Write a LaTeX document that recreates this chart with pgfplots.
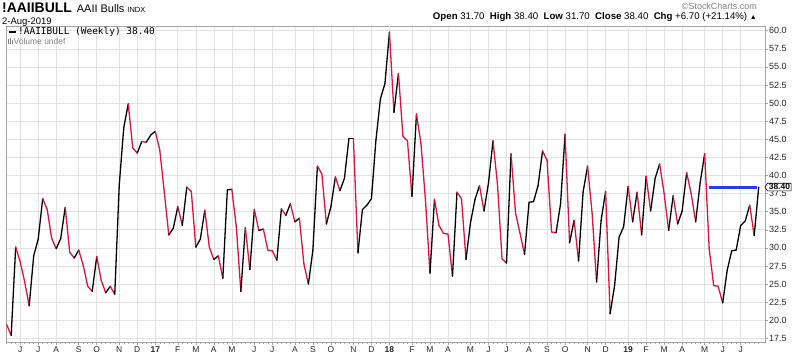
\documentclass[border=0pt]{standalone}
\usepackage{fontspec}
\setmainfont{Liberation Sans}
\newfontfamily\monof{DejaVu Sans Mono}
\usepackage{pgfplots}
\usepackage{pgfplotstable}
\pgfplotsset{compat=1.18}
\usetikzlibrary{shapes.symbols}
\definecolor{dnred}{RGB}{220,20,60}
\definecolor{gridc}{RGB}{226,226,226}
\definecolor{gridy}{RGB}{200,200,200}
\definecolor{framec}{RGB}{165,165,165}
\definecolor{bluel}{RGB}{40,60,230}
\definecolor{txtc}{RGB}{40,40,40}

\pgfplotstableread{
x y s
0 19.4 1
1 17.9 0
2 30.1 1
3 28.1 1
4 25.3 1
5 22.0 0
6 28.9 0
7 31.2 0
8 36.8 1
9 35.3 1
10 31.3 1
11 29.9 0
12 31.3 0
13 35.6 1
14 29.4 1
15 28.6 0
16 29.7 1
17 27.6 1
18 24.7 1
19 24.0 0
20 28.8 1
21 25.5 1
22 23.8 0
23 24.7 1
24 23.6 0
25 38.7 0
26 46.6 0
27 49.9 1
28 43.8 1
29 43.1 0
30 44.7 1
31 44.6 0
32 45.6 0
33 46.1 1
34 43.5 1
35 37.7 1
36 31.8 0
37 32.7 0
38 35.7 1
39 33.1 0
40 38.4 1
41 37.8 1
42 30.1 0
43 31.2 0
44 35.2 1
45 30.1 1
46 28.4 0
47 28.9 1
48 25.8 0
49 38.0 0
50 38.1 1
51 32.9 1
52 24.0 0
53 32.8 1
54 27.0 0
55 35.3 1
56 32.4 0
57 32.6 1
58 29.7 1
59 29.6 1
60 28.3 0
61 35.4 1
62 34.5 0
63 36.1 1
64 33.6 0
65 34.1 1
66 27.8 1
67 25.0 0
68 29.7 0
69 41.3 1
70 40.2 1
71 33.3 0
72 35.7 0
73 39.8 1
74 37.9 0
75 39.6 0
76 45.1 0
77 45.1 1
78 29.3 0
79 35.3 0
80 35.9 0
81 36.8 0
82 44.9 0
83 50.6 0
84 52.7 0
85 59.8 1
86 48.7 0
87 54.1 1
88 45.4 1
89 44.8 1
90 37.1 0
91 48.5 1
92 44.4 1
93 36.6 1
94 26.5 0
95 36.7 1
96 33.1 1
97 32.0 1
98 31.9 1
99 26.1 0
100 37.7 1
101 36.8 1
102 28.4 0
103 33.5 0
104 36.7 0
105 38.6 1
106 35.1 0
107 39.0 0
108 44.8 1
109 38.7 1
110 28.5 1
111 27.9 0
112 43.0 1
113 34.8 1
114 32.0 1
115 29.1 0
116 36.3 0
117 36.4 0
118 38.6 0
119 43.4 1
120 42.1 1
121 32.2 1
122 32.1 0
123 36.1 0
124 45.7 1
125 30.7 0
126 33.8 1
127 28.2 0
128 37.7 0
129 41.3 1
130 34.8 1
131 25.3 0
132 33.8 0
133 37.8 1
134 20.9 0
135 24.8 0
136 31.5 0
137 32.9 0
138 38.5 1
139 33.6 0
140 37.7 1
141 31.8 0
142 39.9 1
143 35.1 0
144 39.6 0
145 41.6 1
146 37.5 1
147 32.4 0
148 37.2 1
149 33.3 0
150 35.1 0
151 40.4 1
152 37.5 1
153 33.6 0
154 39.0 0
155 43.0 1
156 29.9 1
157 24.8 1
158 24.7 1
159 22.4 0
160 26.9 0
161 29.6 0
162 29.7 0
163 33.1 0
164 33.7 0
165 35.9 1
166 31.7 0
167 38.4 0
}\aaiidata

\begin{document}
\begin{tikzpicture}[x=1bp,y=1bp]
\useasboundingbox (0,0) rectangle (800,356);
\begin{axis}[
  at={(6bp,14bp)}, anchor=south west,
  scale only axis, width=759bp, height=316bp,
  xmin=-0.15, xmax=168.4, ymin=17.0, ymax=60.65,
  axis line style={framec, line width=0.7bp},
  grid=major,
  major grid style={gridc, line width=0.6bp},
  xtick={3,7,11,16,20,25,29,33,38,42,46,50,55,59,64,68,72,77,81,85,90,94,98,103,107,111,116,120,124,129,133,138,142,146,150,155,159,163},
  xticklabels={J,J,A,S,O,N,D,\textbf{17},F,M,A,M,J,J,A,S,O,N,D,\textbf{18},F,M,A,M,J,J,A,S,O,N,D,\textbf{19},F,M,A,M,J,J},
  extra x ticks={33,85,138}, extra x tick labels={},
  extra x tick style={grid style={gridy, line width=0.8bp}},
  minor xtick={0,1,...,167},
  xtick pos=lower, ytick pos=right,
  tick align=outside,
  major tick length=3bp, minor tick length=1.5bp,
  tick style={framec, line width=0.5bp},
  ytick={17.5,20,22.5,25,27.5,30,32.5,35,37.5,40,42.5,45,47.5,50,52.5,55,57.5,60},
  yticklabel pos=right,
  /pgf/number format/assume math mode=true,
  yticklabel style={/pgf/number format/fixed, /pgf/number format/fixed zerofill, /pgf/number format/precision=1, font=\fontsize{9}{10}\selectfont, text=txtc, inner sep=1bp},
  xticklabel style={font=\fontsize{8.5}{9}\selectfont, text=txtc, inner sep=1bp},
  colormap={updown}{color=(black) color=(dnred)},
  point meta min=0, point meta max=1,
  clip=false,
]
\addplot[bluel, line width=3bp] coordinates {(156,38.3) (166.6,38.3)};
\addplot[mesh, shader=flat corner, line width=1.3bp, line cap=round, line join=round, point meta=\thisrow{s}] table[x=x, y=y] {\aaiidata};
\node[signal, signal to=west, signal pointer angle=110, draw=black, fill=white, line width=0.6bp, inner xsep=1.2bp, inner ysep=0.8bp, font=\bfseries\fontsize{8.5}{9}\selectfont, anchor=west] at (axis cs:168.3,38.4) {38.40};
\end{axis}
% header
\node[anchor=base west, inner sep=0] at (2,344) {{\fontsize{14}{15}\selectfont\bfseries !AAIIBULL}\hspace{5bp}{\fontsize{11}{12}\selectfont AAII Bulls}\hspace{3bp}{\fontsize{7.5}{9}\selectfont INDX}};
\node[anchor=base west, inner sep=0] at (2,332) {\fontsize{9.5}{11}\selectfont 2-Aug-2019};
\node[anchor=base east, inner sep=0, text=gray] at (757,347) {\fontsize{9}{10}\selectfont ©StockCharts.com};
\node[anchor=base east, inner sep=0] at (757,336.5) {\fontsize{9.7}{11}\selectfont \textbf{Open} 31.70\ \ \textbf{High} 38.40\ \ \textbf{Low} 31.70\ \ \textbf{Close} 38.40\ \ \textbf{Chg} +6.70 (+21.14\%) {\fontsize{7}{8}\selectfont ▲}};
% legend
\draw[black, line width=1.3bp] (9,324) -- (16,324);
\node[anchor=west, inner sep=0] at (18,324) {\monof\fontsize{9.5}{11}\selectfont !AAIIBULL (Weekly) 38.40};
\fill[gray] (8,312) rectangle (9,317);
\fill[gray] (9.8,312) rectangle (10.8,318.5);
\fill[gray] (11.6,312) rectangle (12.6,316);
\node[anchor=west, inner sep=0, text=gray] at (13.5,315) {\fontsize{8.5}{10}\selectfont Volume undef};
\end{tikzpicture}
\end{document}
